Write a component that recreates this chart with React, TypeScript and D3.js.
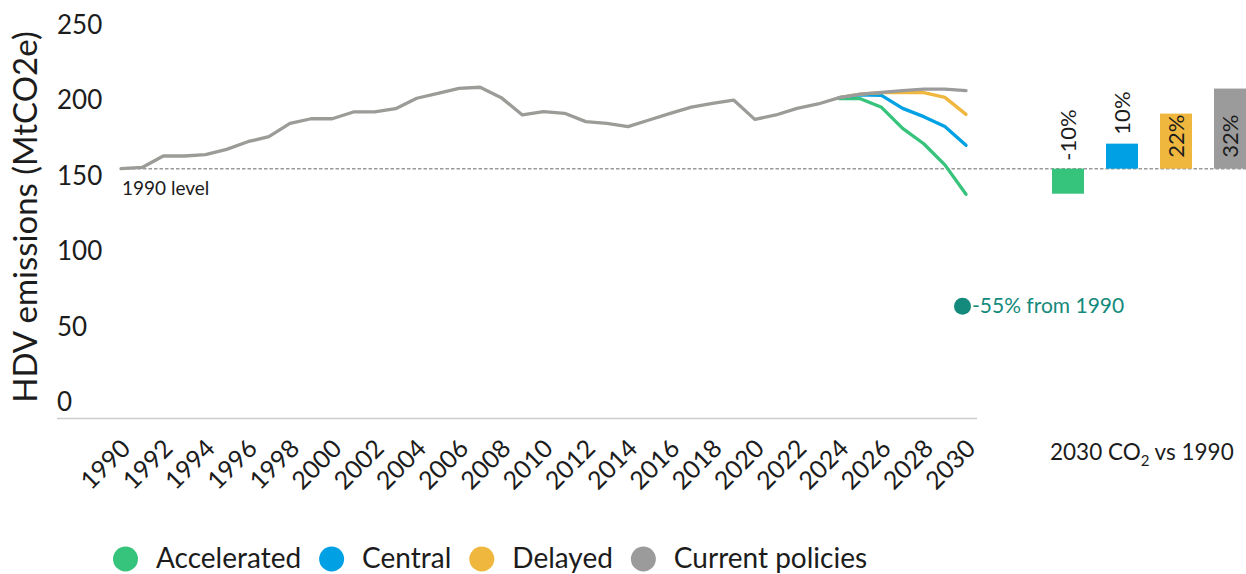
import React from "react";
import * as d3 from "d3";

// ---------- data ----------
const histYears = [1990, 1991, 1992, 1993, 1994, 1995, 1996, 1997, 1998, 1999, 2000, 2001, 2002, 2003, 2004, 2005, 2006, 2007, 2008, 2009, 2010, 2011, 2012, 2013, 2014, 2015, 2016, 2017, 2018, 2019, 2020, 2021, 2022, 2023, 2024];
const histValues = [166, 166.8, 174.4, 174.4, 175.3, 178.8, 183.9, 187.2, 196.1, 199.1, 199.1, 203.6, 203.6, 205.8, 212.7, 216, 219.3, 220, 213.1, 201.6, 203.8, 202.7, 197.2, 196.1, 193.9, 198.3, 202.7, 206.8, 209.3, 211.5, 198.7, 201.6, 206, 208.9, 213.1];

const scenYears = [2024, 2025, 2026, 2027, 2028, 2029, 2030];
const accelerated = [212.4, 212.4, 206.7, 192.7, 182.5, 168.5, 149.0];
const central = [213.1, 215.0, 214.6, 206.0, 200.5, 193.9, 181.5];
const delayed = [213.1, 215.5, 216.4, 216.6, 216.4, 213.3, 202.0];
const currentPolicies = [213.1, 215.5, 216.6, 217.7, 218.8, 218.8, 217.7];

const scenarioNames = ["Accelerated", "Central", "Delayed", "Current policies"];
const scenarioColors = ["#36c37c", "#00a1e4", "#f0b73f", "#9b9b9b"];
const barPct = [-10, 10, 22, 32];
const barLabels = ["-10%", "10%", "22%", "32%"];

const xTicks = [1990, 1992, 1994, 1996, 1998, 2000, 2002, 2004, 2006, 2008, 2010, 2012, 2014, 2016, 2018, 2020, 2022, 2024, 2026, 2028, 2030];
const yTicks = [0, 50, 100, 150, 200, 250];
const annotationPct = -55;

const FONT = "Lato, 'Noto Sans', sans-serif";
const TEXT = "#1c1c1c";
const TEAL = "#138a7b";

function measure(text: string, size: number) {
  const c = document.createElement("canvas").getContext("2d");
  if (!c) return text.length * size * 0.5;
  c.font = `${size}px Lato`;
  return c.measureText(text).width;
}

export default function App() {
  const W = 1246;
  const H = 574;
  const x = d3.scaleLinear().domain([1990, 2030]).range([121, 966]);
  const y = d3.scaleLinear().domain([0, 250]).range([419, 42]);
  const level = histValues[0];
  const line = d3
    .line<[number, number]>()
    .x((d) => x(d[0]))
    .y((d) => y(d[1]));

  const scenarioSeries = [accelerated, central, delayed, currentPolicies];
  const hist: [number, number][] = histYears.map((yr, i) => [yr, histValues[i]]);

  const band = d3
    .scaleBand<string>()
    .domain(scenarioNames)
    .range([1030, 1268])
    .padding(22 / 54);
  const base = y(level);

  // legend layout
  const legendFont = 28;
  let cursor = 113.5;
  const legendItems = scenarioNames.map((name, i) => {
    const cx = cursor + 12;
    const tx = cursor + 42.5;
    const w = measure(name, legendFont);
    cursor = tx + w + 18.5;
    return { name, color: scenarioColors[i], cx, tx };
  });

  const annX = x(2030) - 3.5;
  const annY = y(level * (1 + annotationPct / 100));

  return (
    <svg
      width={W}
      height={H}
      style={{ position: "absolute", left: 0, top: 0, fontFamily: FONT }}
    >
      <rect width={W} height={H} fill="#ffffff" />

      {/* y axis title */}
      <text
        transform={`translate(37, 217) rotate(-90)`}
        textAnchor="middle"
        fontSize={33}
        fill={TEXT}
      >
        HDV emissions (MtCO2e)
      </text>

      {/* y tick labels */}
      {yTicks.map((t) => (
        <text key={t} x={57} y={y(t) - 8} fontSize={26} fill={TEXT}>
          {t}
        </text>
      ))}

      {/* x axis line */}
      <line x1={57} x2={977} y1={418.5} y2={418.5} stroke="#cccccc" strokeWidth={1.5} />

      {/* x tick labels */}
      {xTicks.map((t) => (
        <text
          key={t}
          transform={`translate(${x(t) + 11}, 450) rotate(-45)`}
          textAnchor="end"
          fontSize={25}
          fill={TEXT}
        >
          {t}
        </text>
      ))}

      {/* 1990 level */}
      <line
        x1={x(1990)}
        x2={W}
        y1={base}
        y2={base}
        stroke="#9a9a9a"
        strokeWidth={1.5}
        strokeDasharray="3.5 2"
      />
      <text x={122} y={195} fontSize={19} fill={TEXT}>
        1990 level
      </text>

      {/* scenario lines */}
      {scenarioSeries.map((vals, i) => (
        <path
          key={scenarioNames[i]}
          d={line(scenYears.map((yr, j) => [yr, vals[j]] as [number, number])) || ""}
          fill="none"
          stroke={scenarioColors[i]}
          strokeWidth={3.3}
          strokeLinejoin="round"
          strokeLinecap="round"
        />
      ))}
      {/* historical line */}
      <path
        d={line(hist) || ""}
        fill="none"
        stroke="#9b9c98"
        strokeWidth={3.3}
        strokeLinejoin="round"
        strokeLinecap="round"
      />

      {/* annotation */}
      <circle cx={annX} cy={annY} r={8.5} fill={TEAL} />
      <text x={annX + 9.5} y={annY + 7} fontSize={21} fill={TEAL}>
        {`${annotationPct}% from 1990`}
      </text>

      {/* bars */}
      {scenarioNames.map((name, i) => {
        const v = level * (1 + barPct[i] / 100);
        const top = y(v);
        const bx = band(name) || 0;
        const bw = band.bandwidth();
        const cx = bx + bw / 2;
        const h = Math.abs(base - top);
        let ly: number;
        if (barPct[i] < 0) ly = base - 8;
        else if (h > 55) ly = base - 11;
        else ly = top - 9;
        return (
          <g key={name}>
            <rect
              x={bx}
              y={Math.min(top, base)}
              width={bw}
              height={h}
              fill={scenarioColors[i]}
            />
            <text
              transform={`translate(${cx}, ${ly}) rotate(-90)`}
              dy="0.36em"
              fontSize={22}
              fill={TEXT}
            >
              {barLabels[i]}
            </text>
          </g>
        );
      })}

      <text x={1050} y={460} fontSize={22.5} fill={TEXT}>
        2030 CO
        <tspan fontSize={15} dy={6}>2</tspan>
        <tspan dy={-6}> vs 1990</tspan>
      </text>

      {/* legend */}
      {legendItems.map((it) => (
        <g key={it.name}>
          <circle cx={it.cx} cy={559} r={12.5} fill={it.color} />
          <text x={it.tx} y={568} fontSize={legendFont} fill={TEXT}>
            {it.name}
          </text>
        </g>
      ))}
    </svg>
  );
}
